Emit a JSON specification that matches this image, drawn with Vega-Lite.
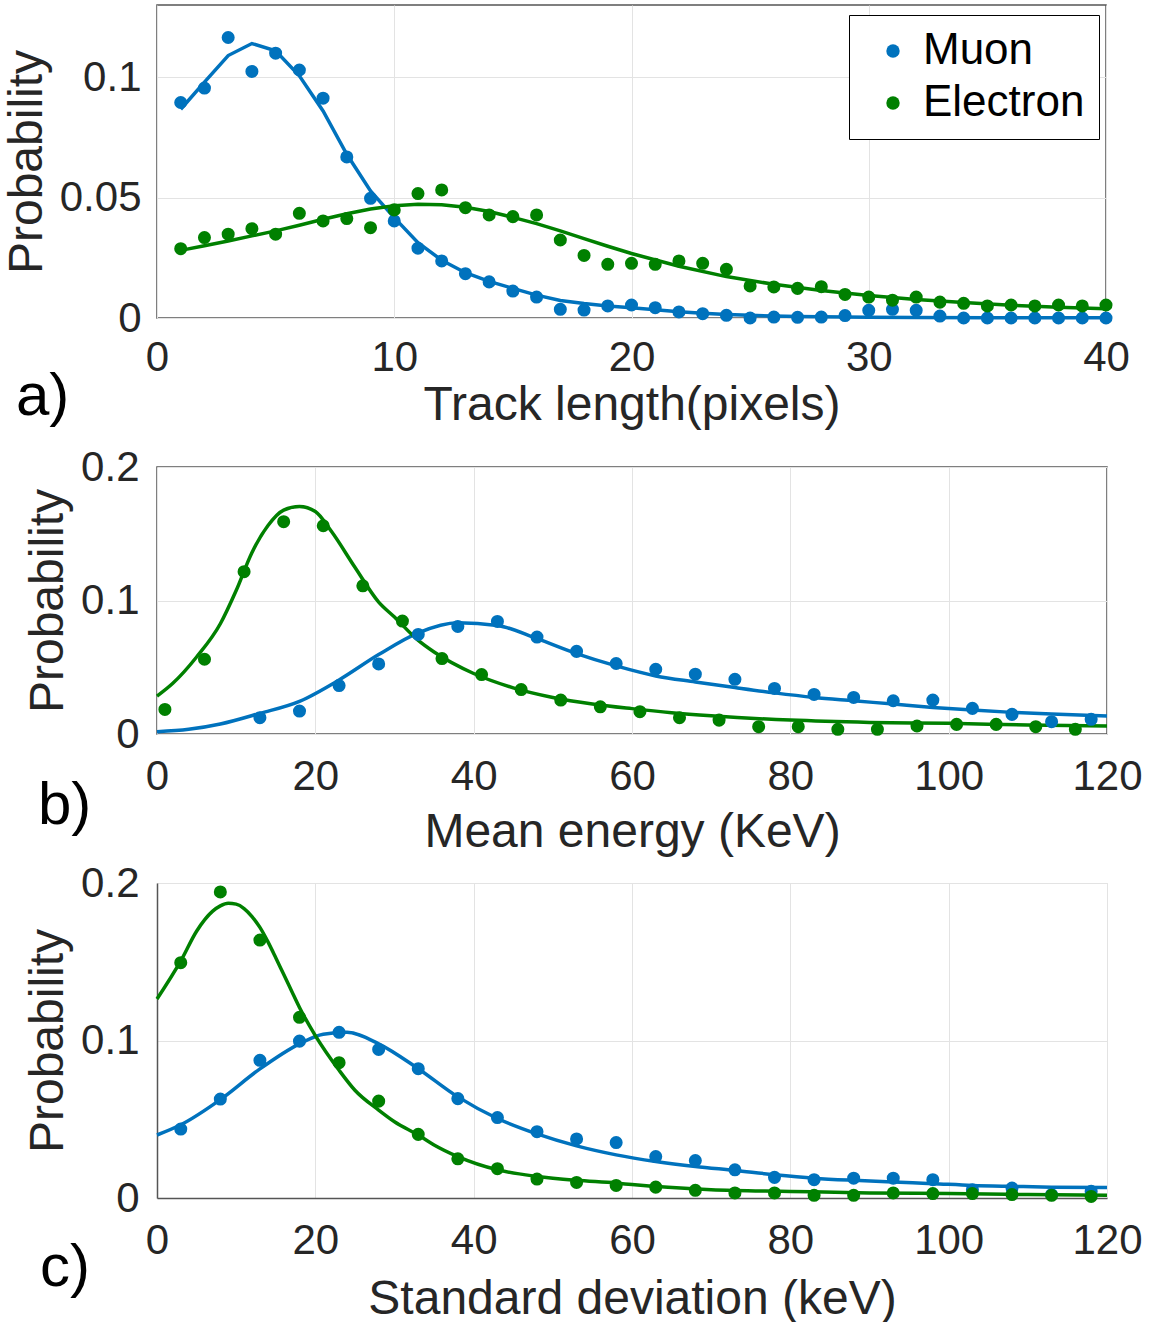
{
  "$schema": "https://vega.github.io/schema/vega-lite/v6.json",
  "background": "white",
  "padding": {"left": 2, "top": 4, "right": 0, "bottom": 0},
  "config": {
    "font": "Liberation Sans",
    "view": {"stroke": "#555555", "strokeWidth": 1.5},
    "axis": {
      "labelFont": "Liberation Sans", "labelFontSize": 42, "labelColor": "#262626",
      "titleFont": "Liberation Sans", "titleFontSize": 48, "titleFontWeight": "normal", "titleColor": "#262626",
      "ticks": false, "domain": false, "gridColor": "#e3e3e3", "gridWidth": 1,
      "labelPadding": 14, "labelFlush": false, "labelOverlap": false
    }
  },
  "datasets": {
    "a_pts": [
      {"x":1,"p":0.0895,"s":"Muon"},{"x":2,"p":0.0955,"s":"Muon"},{"x":3,"p":0.1165,"s":"Muon"},{"x":4,"p":0.1024,"s":"Muon"},
      {"x":5,"p":0.110,"s":"Muon"},{"x":6,"p":0.103,"s":"Muon"},{"x":7,"p":0.0913,"s":"Muon"},{"x":8,"p":0.0669,"s":"Muon"},
      {"x":9,"p":0.0497,"s":"Muon"},{"x":10,"p":0.0403,"s":"Muon"},{"x":11,"p":0.029,"s":"Muon"},{"x":12,"p":0.0237,"s":"Muon"},
      {"x":13,"p":0.0184,"s":"Muon"},{"x":14,"p":0.015,"s":"Muon"},{"x":15,"p":0.0112,"s":"Muon"},{"x":16,"p":0.0087,"s":"Muon"},
      {"x":17,"p":0.0036,"s":"Muon"},{"x":18,"p":0.0033,"s":"Muon"},{"x":19,"p":0.005,"s":"Muon"},{"x":20,"p":0.0054,"s":"Muon"},
      {"x":21,"p":0.0043,"s":"Muon"},{"x":22,"p":0.0025,"s":"Muon"},{"x":23,"p":0.0018,"s":"Muon"},{"x":24,"p":0.0011,"s":"Muon"},
      {"x":25,"p":0.0,"s":"Muon"},{"x":26,"p":0.0004,"s":"Muon"},{"x":27,"p":0.0003,"s":"Muon"},{"x":28,"p":0.0004,"s":"Muon"},
      {"x":29,"p":0.001,"s":"Muon"},{"x":30,"p":0.0032,"s":"Muon"},{"x":31,"p":0.0036,"s":"Muon"},{"x":32,"p":0.0032,"s":"Muon"},
      {"x":33,"p":0.0008,"s":"Muon"},{"x":34,"p":0.0,"s":"Muon"},{"x":35,"p":0.0,"s":"Muon"},{"x":36,"p":0.0,"s":"Muon"},
      {"x":37,"p":0.0,"s":"Muon"},{"x":38,"p":0.0,"s":"Muon"},{"x":39,"p":0.0,"s":"Muon"},{"x":40,"p":0.0,"s":"Muon"},
      {"x":1,"p":0.0288,"s":"Electron"},{"x":2,"p":0.0334,"s":"Electron"},{"x":3,"p":0.0348,"s":"Electron"},{"x":4,"p":0.0371,"s":"Electron"},
      {"x":5,"p":0.0348,"s":"Electron"},{"x":6,"p":0.0435,"s":"Electron"},{"x":7,"p":0.0403,"s":"Electron"},{"x":8,"p":0.0413,"s":"Electron"},
      {"x":9,"p":0.0375,"s":"Electron"},{"x":10,"p":0.0449,"s":"Electron"},{"x":11,"p":0.0517,"s":"Electron"},{"x":12,"p":0.0532,"s":"Electron"},
      {"x":13,"p":0.0458,"s":"Electron"},{"x":14,"p":0.0428,"s":"Electron"},{"x":15,"p":0.0421,"s":"Electron"},{"x":16,"p":0.0428,"s":"Electron"},
      {"x":17,"p":0.0324,"s":"Electron"},{"x":18,"p":0.026,"s":"Electron"},{"x":19,"p":0.0223,"s":"Electron"},{"x":20,"p":0.0227,"s":"Electron"},
      {"x":21,"p":0.0223,"s":"Electron"},{"x":22,"p":0.0237,"s":"Electron"},{"x":23,"p":0.0227,"s":"Electron"},{"x":24,"p":0.0202,"s":"Electron"},
      {"x":25,"p":0.0133,"s":"Electron"},{"x":26,"p":0.0129,"s":"Electron"},{"x":27,"p":0.0123,"s":"Electron"},{"x":28,"p":0.013,"s":"Electron"},
      {"x":29,"p":0.0098,"s":"Electron"},{"x":30,"p":0.0087,"s":"Electron"},{"x":31,"p":0.0074,"s":"Electron"},{"x":32,"p":0.0087,"s":"Electron"},
      {"x":33,"p":0.0066,"s":"Electron"},{"x":34,"p":0.0061,"s":"Electron"},{"x":35,"p":0.005,"s":"Electron"},{"x":36,"p":0.0054,"s":"Electron"},
      {"x":37,"p":0.005,"s":"Electron"},{"x":38,"p":0.0054,"s":"Electron"},{"x":39,"p":0.005,"s":"Electron"},{"x":40,"p":0.0054,"s":"Electron"}
    ],
    "a_fit": [
      {"x":1,"p":0.0867,"s":"Muon"},{"x":2,"p":0.098,"s":"Muon"},{"x":3,"p":0.109,"s":"Muon"},{"x":4,"p":0.114,"s":"Muon"},
      {"x":5,"p":0.111,"s":"Muon"},{"x":6,"p":0.1006,"s":"Muon"},{"x":7,"p":0.086,"s":"Muon"},{"x":8,"p":0.068,"s":"Muon"},
      {"x":9,"p":0.0528,"s":"Muon"},{"x":10,"p":0.0417,"s":"Muon"},{"x":11,"p":0.0313,"s":"Muon"},{"x":12,"p":0.024,"s":"Muon"},
      {"x":13,"p":0.0188,"s":"Muon"},{"x":14,"p":0.0152,"s":"Muon"},{"x":15,"p":0.0123,"s":"Muon"},{"x":16,"p":0.0095,"s":"Muon"},
      {"x":17,"p":0.0073,"s":"Muon"},{"x":18,"p":0.006,"s":"Muon"},{"x":19,"p":0.005,"s":"Muon"},{"x":20,"p":0.0043,"s":"Muon"},
      {"x":21,"p":0.0034,"s":"Muon"},{"x":22,"p":0.0026,"s":"Muon"},{"x":23,"p":0.002,"s":"Muon"},{"x":24,"p":0.0015,"s":"Muon"},
      {"x":25,"p":0.0011,"s":"Muon"},{"x":26,"p":0.0008,"s":"Muon"},{"x":27,"p":0.0006,"s":"Muon"},{"x":28,"p":0.0005,"s":"Muon"},
      {"x":29,"p":0.0004,"s":"Muon"},{"x":30,"p":0.0003,"s":"Muon"},{"x":32,"p":0.0002,"s":"Muon"},{"x":35,"p":0.0001,"s":"Muon"},
      {"x":40,"p":0.0001,"s":"Muon"},
      {"x":1,"p":0.0281,"s":"Electron"},{"x":2,"p":0.03,"s":"Electron"},{"x":3,"p":0.032,"s":"Electron"},{"x":4,"p":0.0341,"s":"Electron"},
      {"x":5,"p":0.0362,"s":"Electron"},{"x":6,"p":0.0385,"s":"Electron"},{"x":7,"p":0.041,"s":"Electron"},{"x":8,"p":0.0433,"s":"Electron"},
      {"x":9,"p":0.0453,"s":"Electron"},{"x":10,"p":0.0466,"s":"Electron"},{"x":11,"p":0.0472,"s":"Electron"},{"x":12,"p":0.047,"s":"Electron"},
      {"x":13,"p":0.046,"s":"Electron"},{"x":14,"p":0.0442,"s":"Electron"},{"x":15,"p":0.0418,"s":"Electron"},{"x":16,"p":0.0392,"s":"Electron"},
      {"x":17,"p":0.0362,"s":"Electron"},{"x":18,"p":0.033,"s":"Electron"},{"x":19,"p":0.0298,"s":"Electron"},{"x":20,"p":0.0268,"s":"Electron"},
      {"x":22,"p":0.0215,"s":"Electron"},{"x":24,"p":0.0172,"s":"Electron"},{"x":26,"p":0.014,"s":"Electron"},{"x":28,"p":0.0114,"s":"Electron"},
      {"x":30,"p":0.0093,"s":"Electron"},{"x":32,"p":0.0077,"s":"Electron"},{"x":34,"p":0.0064,"s":"Electron"},{"x":36,"p":0.0053,"s":"Electron"},
      {"x":38,"p":0.0045,"s":"Electron"},{"x":40,"p":0.0038,"s":"Electron"}
    ],
    "b_pts": [
      {"x":13,"p":0.0122,"s":"Muon"},{"x":18,"p":0.0172,"s":"Muon"},{"x":23,"p":0.0363,"s":"Muon"},{"x":28,"p":0.0525,"s":"Muon"},
      {"x":33,"p":0.0746,"s":"Muon"},{"x":38,"p":0.0806,"s":"Muon"},{"x":43,"p":0.0843,"s":"Muon"},{"x":48,"p":0.0726,"s":"Muon"},
      {"x":53,"p":0.0619,"s":"Muon"},{"x":58,"p":0.0528,"s":"Muon"},{"x":63,"p":0.0485,"s":"Muon"},{"x":68,"p":0.0448,"s":"Muon"},
      {"x":73,"p":0.041,"s":"Muon"},{"x":78,"p":0.0341,"s":"Muon"},{"x":83,"p":0.0296,"s":"Muon"},{"x":88,"p":0.0274,"s":"Muon"},
      {"x":93,"p":0.0249,"s":"Muon"},{"x":98,"p":0.0254,"s":"Muon"},{"x":103,"p":0.0192,"s":"Muon"},{"x":108,"p":0.0147,"s":"Muon"},
      {"x":113,"p":0.0092,"s":"Muon"},{"x":118,"p":0.011,"s":"Muon"},
      {"x":1,"p":0.0184,"s":"Electron"},{"x":6,"p":0.056,"s":"Electron"},{"x":11,"p":0.1216,"s":"Electron"},{"x":16,"p":0.159,"s":"Electron"},
      {"x":21,"p":0.156,"s":"Electron"},{"x":26,"p":0.111,"s":"Electron"},{"x":31,"p":0.0846,"s":"Electron"},{"x":36,"p":0.0565,"s":"Electron"},
      {"x":41,"p":0.0445,"s":"Electron"},{"x":46,"p":0.0333,"s":"Electron"},{"x":51,"p":0.0254,"s":"Electron"},{"x":56,"p":0.0204,"s":"Electron"},
      {"x":61,"p":0.0167,"s":"Electron"},{"x":66,"p":0.0122,"s":"Electron"},{"x":71,"p":0.0104,"s":"Electron"},{"x":76,"p":0.0055,"s":"Electron"},
      {"x":81,"p":0.0055,"s":"Electron"},{"x":86,"p":0.0035,"s":"Electron"},{"x":91,"p":0.0035,"s":"Electron"},{"x":96,"p":0.006,"s":"Electron"},
      {"x":101,"p":0.0072,"s":"Electron"},{"x":106,"p":0.0072,"s":"Electron"},{"x":111,"p":0.0055,"s":"Electron"},{"x":116,"p":0.0035,"s":"Electron"}
    ],
    "b_fit": [
      {"x":0,"p":0.0017,"s":"Muon"},{"x":4,"p":0.0035,"s":"Muon"},{"x":8,"p":0.0075,"s":"Muon"},{"x":13,"p":0.0155,"s":"Muon"},
      {"x":18,"p":0.0245,"s":"Muon"},{"x":23,"p":0.0405,"s":"Muon"},{"x":28,"p":0.0595,"s":"Muon"},{"x":33,"p":0.0758,"s":"Muon"},
      {"x":38,"p":0.0833,"s":"Muon"},{"x":43,"p":0.0813,"s":"Muon"},{"x":48,"p":0.0714,"s":"Muon"},{"x":53,"p":0.0602,"s":"Muon"},
      {"x":58,"p":0.051,"s":"Muon"},{"x":63,"p":0.0435,"s":"Muon"},{"x":68,"p":0.039,"s":"Muon"},{"x":73,"p":0.0348,"s":"Muon"},
      {"x":78,"p":0.0308,"s":"Muon"},{"x":83,"p":0.0274,"s":"Muon"},{"x":88,"p":0.0249,"s":"Muon"},{"x":93,"p":0.0224,"s":"Muon"},
      {"x":98,"p":0.0199,"s":"Muon"},{"x":103,"p":0.0179,"s":"Muon"},{"x":108,"p":0.0162,"s":"Muon"},{"x":113,"p":0.0149,"s":"Muon"},
      {"x":120,"p":0.0134,"s":"Muon"},
      {"x":0,"p":0.0284,"s":"Electron"},{"x":2,"p":0.038,"s":"Electron"},{"x":5,"p":0.0577,"s":"Electron"},{"x":8,"p":0.0826,"s":"Electron"},
      {"x":10,"p":0.1075,"s":"Electron"},{"x":12,"p":0.136,"s":"Electron"},{"x":14,"p":0.156,"s":"Electron"},{"x":16,"p":0.1677,"s":"Electron"},
      {"x":18,"p":0.1704,"s":"Electron"},{"x":20,"p":0.1667,"s":"Electron"},{"x":22,"p":0.152,"s":"Electron"},{"x":25,"p":0.1249,"s":"Electron"},
      {"x":28,"p":0.0988,"s":"Electron"},{"x":30,"p":0.0876,"s":"Electron"},{"x":33,"p":0.0701,"s":"Electron"},{"x":35,"p":0.0614,"s":"Electron"},
      {"x":40,"p":0.0453,"s":"Electron"},{"x":45,"p":0.0346,"s":"Electron"},{"x":50,"p":0.0274,"s":"Electron"},{"x":55,"p":0.0225,"s":"Electron"},
      {"x":60,"p":0.019,"s":"Electron"},{"x":65,"p":0.016,"s":"Electron"},{"x":70,"p":0.0137,"s":"Electron"},{"x":80,"p":0.0104,"s":"Electron"},
      {"x":90,"p":0.0087,"s":"Electron"},{"x":100,"p":0.008,"s":"Electron"},{"x":110,"p":0.0067,"s":"Electron"},{"x":120,"p":0.006,"s":"Electron"}
    ],
    "c_pts": [
      {"x":3,"p":0.0438,"s":"Muon"},{"x":8,"p":0.0628,"s":"Muon"},{"x":13,"p":0.0874,"s":"Muon"},{"x":18,"p":0.0996,"s":"Muon"},
      {"x":23,"p":0.1052,"s":"Muon"},{"x":28,"p":0.0943,"s":"Muon"},{"x":33,"p":0.0821,"s":"Muon"},{"x":38,"p":0.0631,"s":"Muon"},
      {"x":43,"p":0.0511,"s":"Muon"},{"x":48,"p":0.0421,"s":"Muon"},{"x":53,"p":0.0375,"s":"Muon"},{"x":58,"p":0.0352,"s":"Muon"},
      {"x":63,"p":0.0263,"s":"Muon"},{"x":68,"p":0.0238,"s":"Muon"},{"x":73,"p":0.0179,"s":"Muon"},{"x":78,"p":0.0131,"s":"Muon"},
      {"x":83,"p":0.0116,"s":"Muon"},{"x":88,"p":0.0126,"s":"Muon"},{"x":93,"p":0.0126,"s":"Muon"},{"x":98,"p":0.0116,"s":"Muon"},
      {"x":103,"p":0.0053,"s":"Muon"},{"x":108,"p":0.0063,"s":"Muon"},{"x":113,"p":0.0021,"s":"Muon"},{"x":118,"p":0.0042,"s":"Muon"},
      {"x":3,"p":0.1494,"s":"Electron"},{"x":8,"p":0.1943,"s":"Electron"},{"x":13,"p":0.1638,"s":"Electron"},{"x":18,"p":0.1147,"s":"Electron"},
      {"x":23,"p":0.0859,"s":"Electron"},{"x":28,"p":0.0615,"s":"Electron"},{"x":33,"p":0.0404,"s":"Electron"},{"x":38,"p":0.0249,"s":"Electron"},
      {"x":43,"p":0.0186,"s":"Electron"},{"x":48,"p":0.012,"s":"Electron"},{"x":53,"p":0.0099,"s":"Electron"},{"x":58,"p":0.008,"s":"Electron"},
      {"x":63,"p":0.0069,"s":"Electron"},{"x":68,"p":0.0049,"s":"Electron"},{"x":73,"p":0.0032,"s":"Electron"},{"x":78,"p":0.0032,"s":"Electron"},
      {"x":83,"p":0.0017,"s":"Electron"},{"x":88,"p":0.0017,"s":"Electron"},{"x":93,"p":0.0032,"s":"Electron"},{"x":98,"p":0.0028,"s":"Electron"},
      {"x":103,"p":0.0028,"s":"Electron"},{"x":108,"p":0.0022,"s":"Electron"},{"x":113,"p":0.0017,"s":"Electron"},{"x":118,"p":0.001,"s":"Electron"}
    ],
    "c_fit": [
      {"x":0,"p":0.04,"s":"Muon"},{"x":3,"p":0.0465,"s":"Muon"},{"x":8,"p":0.0625,"s":"Muon"},{"x":13,"p":0.082,"s":"Muon"},
      {"x":18,"p":0.0979,"s":"Muon"},{"x":21,"p":0.104,"s":"Muon"},{"x":24,"p":0.1052,"s":"Muon"},{"x":28,"p":0.0979,"s":"Muon"},
      {"x":33,"p":0.0821,"s":"Muon"},{"x":38,"p":0.0642,"s":"Muon"},{"x":43,"p":0.0505,"s":"Muon"},{"x":48,"p":0.0407,"s":"Muon"},
      {"x":53,"p":0.0331,"s":"Muon"},{"x":58,"p":0.0274,"s":"Muon"},{"x":63,"p":0.0232,"s":"Muon"},{"x":68,"p":0.02,"s":"Muon"},
      {"x":73,"p":0.0175,"s":"Muon"},{"x":78,"p":0.0148,"s":"Muon"},{"x":83,"p":0.0126,"s":"Muon"},{"x":88,"p":0.0112,"s":"Muon"},
      {"x":93,"p":0.0101,"s":"Muon"},{"x":98,"p":0.0091,"s":"Muon"},{"x":103,"p":0.008,"s":"Muon"},{"x":108,"p":0.0074,"s":"Muon"},
      {"x":113,"p":0.0069,"s":"Muon"},{"x":120,"p":0.0066,"s":"Muon"},
      {"x":0,"p":0.1263,"s":"Electron"},{"x":3,"p":0.1505,"s":"Electron"},{"x":5,"p":0.1694,"s":"Electron"},{"x":7,"p":0.182,"s":"Electron"},
      {"x":8,"p":0.1855,"s":"Electron"},{"x":9,"p":0.1872,"s":"Electron"},{"x":10,"p":0.1866,"s":"Electron"},{"x":11,"p":0.1838,"s":"Electron"},
      {"x":12,"p":0.1787,"s":"Electron"},{"x":13,"p":0.1718,"s":"Electron"},{"x":14,"p":0.1628,"s":"Electron"},{"x":15,"p":0.1526,"s":"Electron"},
      {"x":16,"p":0.142,"s":"Electron"},{"x":17,"p":0.1315,"s":"Electron"},
      {"x":18,"p":0.121,"s":"Electron"},{"x":20,"p":0.1031,"s":"Electron"},{"x":23,"p":0.0811,"s":"Electron"},{"x":25,"p":0.0684,"s":"Electron"},
      {"x":28,"p":0.0558,"s":"Electron"},{"x":30,"p":0.0484,"s":"Electron"},{"x":33,"p":0.04,"s":"Electron"},{"x":35,"p":0.0337,"s":"Electron"},
      {"x":38,"p":0.0263,"s":"Electron"},{"x":43,"p":0.0179,"s":"Electron"},{"x":48,"p":0.0137,"s":"Electron"},{"x":53,"p":0.0112,"s":"Electron"},
      {"x":58,"p":0.0095,"s":"Electron"},{"x":60,"p":0.0085,"s":"Electron"},{"x":70,"p":0.0053,"s":"Electron"},{"x":80,"p":0.0042,"s":"Electron"},
      {"x":90,"p":0.0032,"s":"Electron"},{"x":100,"p":0.0028,"s":"Electron"},{"x":110,"p":0.0022,"s":"Electron"},{"x":120,"p":0.0017,"s":"Electron"}
    ]
  },
  "bounds": "flush",
  "spacing": 149,
  "resolve": {"scale": {"color": "shared", "stroke": "shared"}, "legend": {"color": "shared", "stroke": "shared"}},
  "vconcat": [
    {
      "width": 949, "height": 313,
      "title": {"text": "a)", "orient": "bottom", "anchor": "start", "frame": "group", "dx": -141, "dy": -61, "offset": 0, "fontSize": 60, "fontWeight": "normal", "color": "black", "font": "Liberation Sans"},
      "encoding": {
        "x": {"field": "x", "type": "quantitative", "scale": {"domain": [0, 40], "nice": false, "zero": false},
              "axis": {"values": [0, 10, 20, 30, 40], "title": "Track length(pixels)", "titlePadding": 3, "labelPadding": 19}},
        "y": {"field": "p", "type": "quantitative", "scale": {"domain": [0, 0.13], "nice": false},
              "axis": {"values": [0, 0.05, 0.1], "format": "~g", "title": "Probability", "titlePadding": 8, "labelPadding": 16}}
      },
      "layer": [
        {"data": {"name": "a_fit"}, "mark": {"type": "line", "strokeWidth": 3.5, "interpolate": "linear"},
         "encoding": {"stroke": {"field": "s", "type": "nominal", "scale": {"domain": ["Electron", "Muon"], "range": ["#008000", "#0072BD"]}, "legend": null}}},
        {"data": {"name": "a_pts"}, "mark": {"type": "circle", "size": 170, "opacity": 1},
         "encoding": {"color": {"field": "s", "type": "nominal", "scale": {"domain": ["Muon", "Electron"], "range": ["#0072BD", "#008000"]},
           "legend": {"orient": "none", "legendX": 692, "legendY": 10, "title": null, "labelFontSize": 44, "labelFont": "Liberation Sans", "labelColor": "black",
             "symbolType": "circle", "symbolSize": 180, "symbolStrokeWidth": 0, "strokeColor": "black", "fillColor": "white", "padding": 14,
             "symbolOffset": 8, "labelOffset": 8, "rowPadding": 8, "labelLimit": 400}}}}
      ]
    },
    {
      "width": 950, "height": 267,
      "title": {"text": "b)", "orient": "bottom", "anchor": "start", "frame": "group", "dx": -119, "dy": -79, "offset": 0, "fontSize": 60, "fontWeight": "normal", "color": "black", "font": "Liberation Sans"},
      "encoding": {
        "x": {"field": "x", "type": "quantitative", "scale": {"domain": [0, 120], "nice": false, "zero": false},
              "axis": {"values": [0, 20, 40, 60, 80, 100, 120], "title": "Mean energy (KeV)", "titlePadding": 11, "labelPadding": 22}},
        "y": {"field": "p", "type": "quantitative", "scale": {"domain": [0, 0.2], "nice": false},
              "axis": {"values": [0, 0.1, 0.2], "format": "~g", "title": "Probability", "titlePadding": 8, "labelPadding": 18}}
      },
      "layer": [
        {"data": {"name": "b_fit"}, "mark": {"type": "line", "strokeWidth": 3.5, "interpolate": "monotone"},
         "encoding": {"stroke": {"field": "s", "type": "nominal", "scale": {"domain": ["Electron", "Muon"], "range": ["#008000", "#0072BD"]}, "legend": null}}},
        {"data": {"name": "b_pts"}, "mark": {"type": "circle", "size": 170, "opacity": 1},
         "encoding": {"color": {"field": "s", "type": "nominal", "scale": {"domain": ["Muon", "Electron"], "range": ["#0072BD", "#008000"]}}}}
      ]
    },
    {
      "width": 950, "height": 315,
      "view": {"stroke": "#e3e3e3", "strokeWidth": 1},
      "title": {"text": "c)", "orient": "bottom", "anchor": "start", "frame": "group", "dx": -117, "dy": -84, "offset": 0, "fontSize": 60, "fontWeight": "normal", "color": "black", "font": "Liberation Sans"},
      "encoding": {
        "x": {"field": "x", "type": "quantitative", "scale": {"domain": [0, 120], "nice": false, "zero": false},
              "axis": {"values": [0, 20, 40, 60, 80, 100, 120], "title": "Standard deviation (keV)", "titlePadding": 14, "labelPadding": 22, "domain": true, "domainColor": "#555555", "domainWidth": 1.5}},
        "y": {"field": "p", "type": "quantitative", "scale": {"domain": [0, 0.2], "nice": false},
              "axis": {"values": [0, 0.1, 0.2], "format": "~g", "title": "Probability", "titlePadding": 8, "labelPadding": 18, "domain": true, "domainColor": "#555555", "domainWidth": 1.5}}
      },
      "layer": [
        {"data": {"name": "c_fit"}, "mark": {"type": "line", "strokeWidth": 3.5, "interpolate": "monotone"},
         "encoding": {"stroke": {"field": "s", "type": "nominal", "scale": {"domain": ["Electron", "Muon"], "range": ["#008000", "#0072BD"]}, "legend": null}}},
        {"data": {"name": "c_pts"}, "mark": {"type": "circle", "size": 170, "opacity": 1},
         "encoding": {"color": {"field": "s", "type": "nominal", "scale": {"domain": ["Muon", "Electron"], "range": ["#0072BD", "#008000"]}}}}
      ]
    }
  ]
}
